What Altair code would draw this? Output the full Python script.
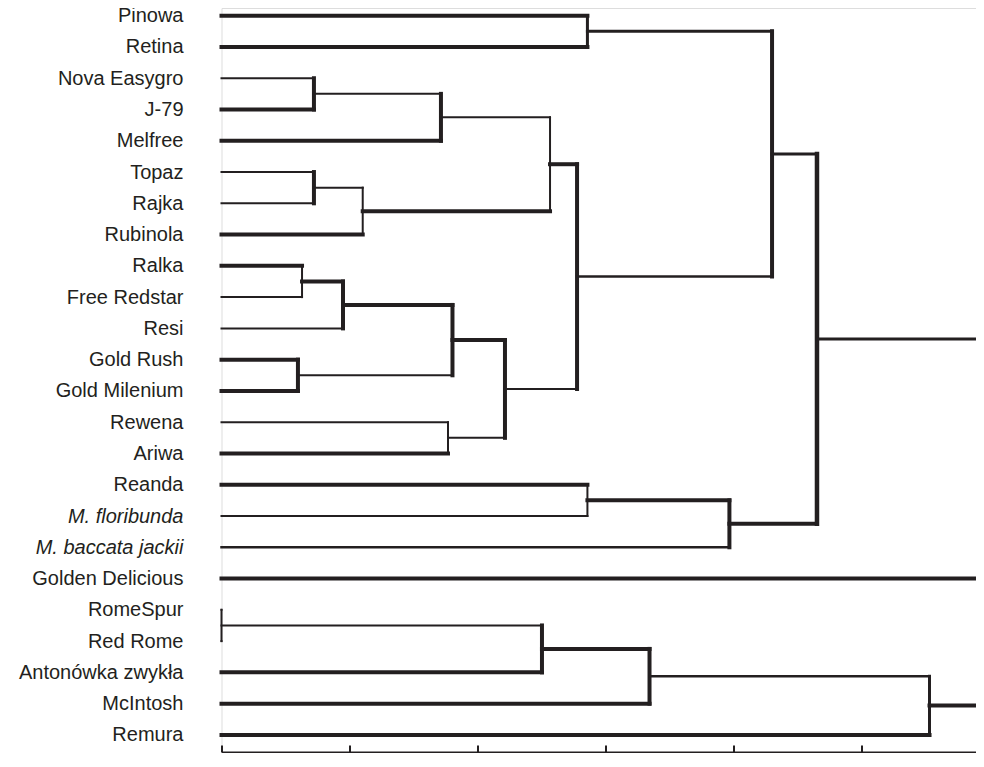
import json
import altair as alt
import pandas as pd

# ---- data -------------------------------------------------------------
leaves = [
    "Pinowa", "Retina", "Nova Easygro", "J-79", "Melfree", "Topaz", "Rajka",
    "Rubinola", "Ralka", "Free Redstar", "Resi", "Gold Rush", "Gold Milenium",
    "Rewena", "Ariwa", "Reanda", "M. floribunda", "M. baccata jackii",
    "Golden Delicious", "RomeSpur", "Red Rome", "Antonówka zwykła", "McIntosh",
    "Remura",
]
italic_leaves = ["M. floribunda", "M. baccata jackii"]

# linkage: node 24+k joins merge_a[k] and merge_b[k] at distance merge_h[k]
merge_a = [2, 24, 5, 26, 25, 8, 29, 11, 30, 13, 32, 28, 0, 36, 15, 38, 37, 19, 41, 42, 43]
merge_b = [3, 4, 6, 7, 27, 9, 10, 12, 31, 14, 33, 34, 1, 35, 16, 17, 39, 20, 21, 22, 23]
merge_h = [0.722, 1.714, 0.722, 1.103, 2.566, 0.629, 0.949, 0.597, 1.804, 1.769,
           2.214, 2.777, 2.858, 4.30, 2.858, 3.967, 4.651, 0.0, 2.503, 3.343, 5.530]
roots = [40, 18, 44]
axis_max = 5.893
axis_ticks = [0, 1, 2, 3, 4, 5]

# ---- styles (line weights of the printed dendrogram) -------------------
w_a = [2, 2, 2, 2, 2, 4, 4, 4, 4, 2, 4, 4, 4, 3, 4, 4, 3, 2, 2, 4, 2.5]
w_b = [4, 4, 2, 4, 4, 2, 2, 4, 2, 4, 2, 2, 4, 2.5, 2, 2.5, 4, 2, 4, 4, 4]
w_v = [4, 4, 4, 2, 2, 2, 4, 4, 4, 2, 4, 4, 3, 4, 2, 4, 4.5, 2, 4, 4, 3]
root_w = [3, 4, 4]
INK = "#231f20"

# ---- build segments from the tree -------------------------------------
n = len(leaves)
pos_x = {i: 0.0 for i in range(n)}
pos_y = {i: float(i) for i in range(n)}
rows = []
for k, (a, b, h) in enumerate(zip(merge_a, merge_b, merge_h)):
    node = n + k
    rows.append(dict(x=pos_x[a], x2=h, y=pos_y[a], y2=pos_y[a], w=w_a[k]))
    rows.append(dict(x=pos_x[b], x2=h, y=pos_y[b], y2=pos_y[b], w=w_b[k]))
    rows.append(dict(x=h, x2=h, y=pos_y[a], y2=pos_y[b], w=w_v[k]))
    pos_x[node] = h
    pos_y[node] = (pos_y[a] + pos_y[b]) / 2
for r, w in zip(roots, root_w):
    rows.append(dict(x=pos_x[r], x2=axis_max, y=pos_y[r], y2=pos_y[r], w=w))
seg = pd.DataFrame(rows)

names_js = json.dumps(leaves, ensure_ascii=False)
italic_idx = [leaves.index(s) for s in italic_leaves]
italic_test = " || ".join(f"datum.value == {i}" for i in italic_idx)

H = 744
chart = alt.Chart(seg).mark_rule(color=INK, strokeCap="square").encode(
    x=alt.X(
        "x:Q",
        scale=alt.Scale(domain=[0, axis_max], nice=False, zero=False),
        axis=alt.Axis(
            orient="top", offset=-H, values=axis_ticks, labels=False,
            ticks=True, tickSize=7, tickWidth=2, tickColor=INK,
            domain=True, domainWidth=2, domainColor=INK, grid=False, title=None,
        ),
    ),
    x2="x2:Q",
    y=alt.Y(
        "y:Q",
        scale=alt.Scale(domain=[-0.246, 23.547], reverse=True, nice=False, zero=False),
        axis=alt.Axis(
            values=list(range(n)),
            labelExpr=f"{names_js}[datum.value]",
            ticks=False, tickSize=0, domain=False, grid=False, title=None,
            labelPadding=38.5, labelFontSize=20, labelFont="Liberation Sans",
            labelColor=INK, labelAlign="right", labelBaseline="middle",
            labelOverlap=False, labelLimit=400,
            labelFontStyle={"condition": {"test": italic_test, "value": "italic"},
                            "value": "normal"},
        ),
    ),
    y2="y2:Q",
    strokeWidth=alt.StrokeWidth("w:Q", scale=None),
).properties(
    width=754.5,
    height=H,
    autosize="none",
    padding={"left": 213.5, "top": 0, "right": 0, "bottom": 1},
).configure_view(stroke=None).configure(background="white")

chart.save("out.html", embed_options={"renderer": "svg", "actions": False})
